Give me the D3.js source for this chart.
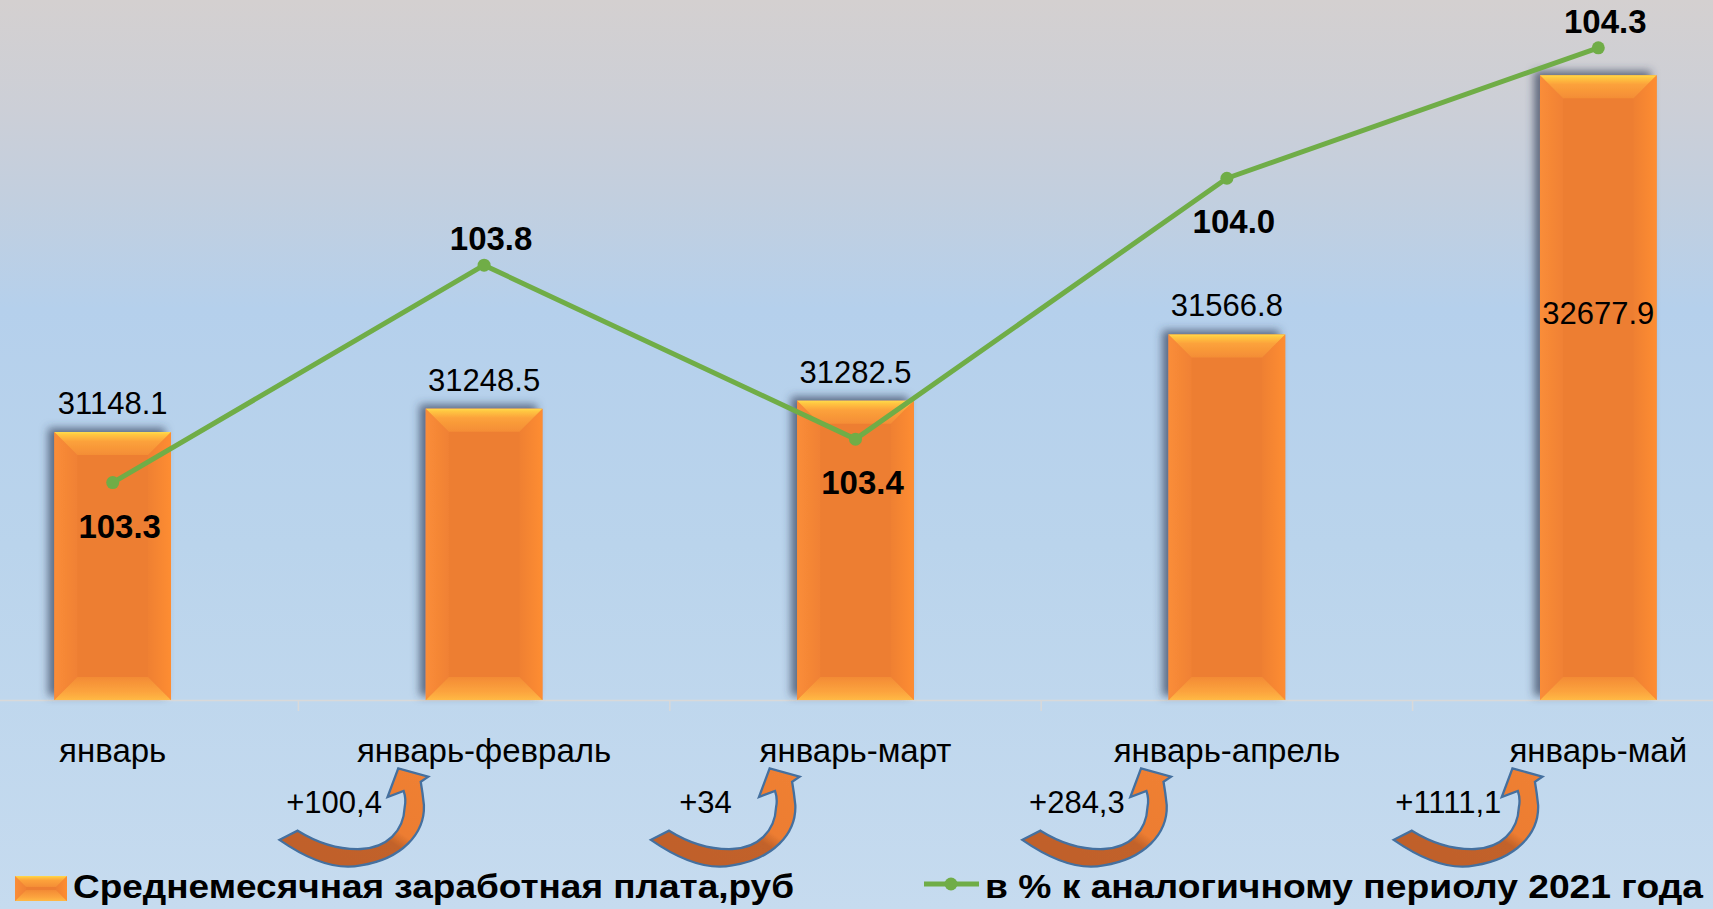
<!DOCTYPE html>
<html>
<head>
<meta charset="utf-8">
<script src="https://cdn.jsdelivr.net/npm/d3@7"></script>
<style>
  html, body { margin: 0; padding: 0; overflow: hidden; }
  svg { display: block; }
</style>
</head>
<body>
<div id="chart"></div>
<script>
// data
const categories = ['январь', 'январь-февраль', 'январь-март', 'январь-апрель', 'январь-май']
const wages = [31148.1, 31248.5, 31282.5, 31566.8, 32677.9]
const percents = [103.3, 103.8, 103.4, 104.0, 104.3]
const increments = ['+100,4', '+34', '+284,3', '+1111,1']
const wageDomain = [30000, 33000]
const percentDomain = [102.8, 104.41]
const legendLabels = ['Среднемесячная заработная плата,руб', 'в % к аналогичному периолу 2021 года']

const width = 1713
const height = 909
const baseY = 700
const font = '"Liberation Sans", Arial, sans-serif'

const svg = d3.select('#chart').append('svg')
  .attr('width', width)
  .attr('height', height)

const defs = svg.append('defs')

function gradient(id, stops, x1, y1, x2, y2) {
  let g = defs.append('linearGradient')
    .attr('id', id)
    .attr('x1', x1).attr('y1', y1).attr('x2', x2).attr('y2', y2)
  stops.forEach(s => g.append('stop').attr('offset', s[0]).attr('stop-color', s[1]))
}

gradient('bg', [[0, '#d4d0d0'], [0.12, '#cccfd7'], [0.22, '#c2cfdf'], [0.34, '#b5d0ec'], [0.6, '#bad4ec'], [1, '#c6dbef']], 0, 0, 0, 1)
gradient('bevelTop', [[0, '#ffdc4a'], [0.1, '#ffc842'], [0.4, '#fca23b'], [1, '#f48d36']], 0, 0, 0, 1)
gradient('bevelBottom', [[0, '#f38b35'], [0.65, '#fca43e'], [1, '#ffb945']], 0, 0, 0, 1)
gradient('bevelLeft', [[0, '#fa8d38'], [1, '#f08134']], 0, 0, 1, 0)
gradient('bevelRight', [[0, '#ef8033'], [1, '#fe8d31']], 0, 0, 1, 0)
gradient('arrowFill', [[0, '#bf6029'], [0.5, '#c2622a'], [0.58, '#ed7d31'], [1, '#ef8034']], 0, 1, 1, 0)

let shadow = defs.append('filter')
  .attr('id', 'barShadow')
  .attr('x', '-30%').attr('y', '-30%').attr('width', '160%').attr('height', '160%')
shadow.append('feDropShadow')
  .attr('dx', -6).attr('dy', -4)
  .attr('stdDeviation', 4)
  .attr('flood-color', '#334058')
  .attr('flood-opacity', 0.7)

let soft = defs.append('filter').attr('id', 'soft')
soft.append('feGaussianBlur').attr('stdDeviation', 0.6)

svg.append('rect')
  .attr('width', width).attr('height', height)
  .attr('fill', 'url(#bg)')

// scales
const x = d3.scaleBand()
  .domain(categories)
  .range([-73, 1784])
  .paddingInner(0.686)
  .paddingOuter(0.343)

const y = d3.scaleLinear().domain(wageDomain).range([baseY, 0])
const y2 = d3.scaleLinear().domain(percentDomain).range([baseY, 0])
const cx = c => x(c) + x.bandwidth() / 2

// category axis
const xAxis = d3.axisBottom(x).tickSize(0).tickPadding(0)
const xAxisG = svg.append('g')
  .attr('transform', `translate(0, ${baseY})`)
  .call(xAxis)
xAxisG.select('.domain').remove()
xAxisG.selectAll('text')
  .attr('y', 62)
  .attr('dy', null)
  .attr('fill', '#000')
  .style('font-family', font)
  .style('font-size', '33px')

svg.append('line')
  .attr('x1', 0).attr('x2', width)
  .attr('y1', baseY + 0.5).attr('y2', baseY + 0.5)
  .attr('stroke', '#d9d9d9')
  .attr('stroke-width', 1.5)

svg.selectAll('.sep')
  .data(categories.slice(1))
  .join('line')
  .attr('class', 'sep')
  .attr('x1', d => x(d) - x.step() * x.paddingInner() / 2)
  .attr('x2', d => x(d) - x.step() * x.paddingInner() / 2)
  .attr('y1', baseY).attr('y2', baseY + 11)
  .attr('stroke', '#d9d9d9')
  .attr('stroke-width', 1.5)

// bevelled bar
function drawBar(g, x0, y0, w, h, b) {
  let x1 = x0 + w, y1 = y0 + h
  let pts = p => p.map(q => q.join(',')).join(' ')
  g.append('rect').attr('x', x0).attr('y', y0).attr('width', w).attr('height', h).attr('fill', '#ed7e32')
  g.append('polygon').attr('points', pts([[x0, y0], [x0 + b, y0 + b], [x0 + b, y1 - b], [x0, y1]])).attr('fill', 'url(#bevelLeft)')
  g.append('polygon').attr('points', pts([[x1, y0], [x1 - b, y0 + b], [x1 - b, y1 - b], [x1, y1]])).attr('fill', 'url(#bevelRight)')
  g.append('polygon').attr('points', pts([[x0, y0], [x1, y0], [x1 - b, y0 + b], [x0 + b, y0 + b]])).attr('fill', 'url(#bevelTop)')
  g.append('polygon').attr('points', pts([[x0, y1], [x1, y1], [x1 - b, y1 - b], [x0 + b, y1 - b]])).attr('fill', 'url(#bevelBottom)')
}

const bars = svg.append('g')
wages.forEach((v, i) => {
  let g = bars.append('g').attr('filter', 'url(#barShadow)')
  drawBar(g, x(categories[i]), y(v), x.bandwidth(), baseY - y(v), 23)
})

// wage labels (the last one sits inside its tall bar)
const wageLabelY = (v, i) => i === wages.length - 1
  ? y(wages[i - 1]) - 10
  : y(v) - 18

svg.selectAll('.wage-label')
  .data(wages)
  .join('text')
  .attr('class', 'wage-label')
  .attr('x', (d, i) => cx(categories[i]))
  .attr('y', (d, i) => wageLabelY(d, i))
  .attr('text-anchor', 'middle')
  .style('font-family', font)
  .style('font-size', '31px')
  .attr('fill', '#000')
  .text(d => d.toFixed(1))

// percent line
const line = d3.line()
  .x((d, i) => cx(categories[i]))
  .y(d => y2(d))

svg.append('path')
  .datum(percents)
  .attr('d', line)
  .attr('fill', 'none')
  .attr('stroke', '#70ad47')
  .attr('stroke-width', 5)
  .attr('stroke-linejoin', 'round')

svg.selectAll('.pt')
  .data(percents)
  .join('circle')
  .attr('class', 'pt')
  .attr('cx', (d, i) => cx(categories[i]))
  .attr('cy', d => y2(d))
  .attr('r', 6.5)
  .attr('fill', '#70ad47')

const isPeak = (d, i) => d > (i > 0 ? percents[i - 1] : -Infinity) && d > (i < percents.length - 1 ? percents[i + 1] : -Infinity)

svg.selectAll('.pct-label')
  .data(percents)
  .join('text')
  .attr('class', 'pct-label')
  .attr('x', (d, i) => cx(categories[i]) + 7)
  .attr('y', (d, i) => y2(d) + (isPeak(d, i) ? -15 : 55))
  .attr('text-anchor', 'middle')
  .style('font-family', font)
  .style('font-size', '33px')
  .style('font-weight', 'bold')
  .attr('fill', '#000')
  .text(d => d.toFixed(1))

// curved arrows with increments
const arrowPath = [
  'M-66,42',
  'Q-22,74 10,67',
  'C48,61 70,36 69,8',
  'C68,-2 67,-9 66,-15',
  'L73,-20 L45,-28 L35,0 L50,-6',
  'C52,0 52,5 51,10',
  'C50,34 34,50 10,51',
  'Q-20,52 -49,33 Z'
].join(' ')

const notes = svg.append('g')
increments.forEach((t, i) => {
  let c = cx(categories[i + 1])
  notes.append('path')
    .attr('d', arrowPath)
    .attr('transform', `translate(${c - 134}, 797) scale(1.07, 1.02)`)
    .attr('fill', 'url(#arrowFill)')
    .attr('stroke', '#44709f')
    .attr('stroke-width', 2.3)
    .attr('vector-effect', 'non-scaling-stroke')
    .attr('filter', 'url(#soft)')
  notes.append('text')
    .attr('x', c - 150)
    .attr('y', 813)
    .attr('text-anchor', 'middle')
    .style('font-family', font)
    .style('font-size', '31px')
    .attr('fill', '#000')
    .text(t)
})

// legend
const legend = svg.append('g')
drawBar(legend.append('g'), 15, 876, 52, 25, 11)
legend.append('text')
  .attr('x', 73).attr('y', 898)
  .attr('textLength', 721)
  .attr('lengthAdjust', 'spacingAndGlyphs')
  .style('font-family', font)
  .style('font-size', '33px')
  .style('font-weight', 'bold')
  .text(legendLabels[0])

legend.append('line')
  .attr('x1', 924).attr('x2', 979)
  .attr('y1', 884).attr('y2', 884)
  .attr('stroke', '#70ad47')
  .attr('stroke-width', 5)
legend.append('circle')
  .attr('cx', 951).attr('cy', 884).attr('r', 6.5)
  .attr('fill', '#70ad47')
legend.append('text')
  .attr('x', 985).attr('y', 898)
  .attr('textLength', 718)
  .attr('lengthAdjust', 'spacingAndGlyphs')
  .style('font-family', font)
  .style('font-size', '33px')
  .style('font-weight', 'bold')
  .text(legendLabels[1])
</script>
</body>
</html>
